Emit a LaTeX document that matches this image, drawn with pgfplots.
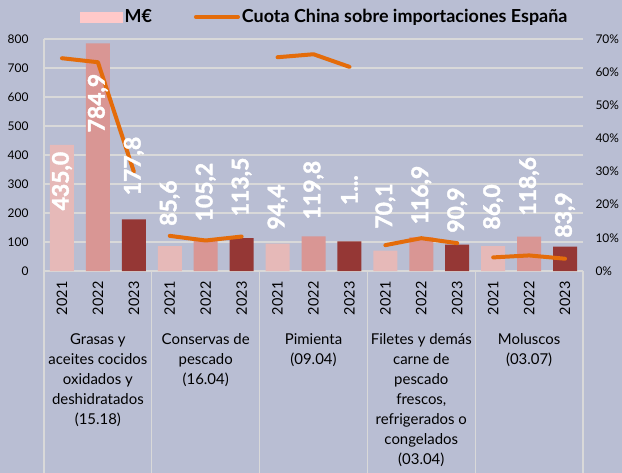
\documentclass[border=0pt]{standalone}
\usepackage{pgfplots}
\pgfplotsset{compat=1.18}
\usepackage{fontspec}
\setmainfont{Lato}
\newfontfamily\heavyfont[BoldFeatures={FakeBold=1.8}]{Lato}
\definecolor{bg}{HTML}{B9BED3}
\definecolor{gridgray}{HTML}{D9D9D9}
\definecolor{c2021}{HTML}{E6B9B8}
\definecolor{c2022}{HTML}{D99694}
\definecolor{c2023}{HTML}{953735}
\definecolor{legpink}{HTML}{FFC9C9}
\definecolor{lineorange}{HTML}{E46C0A}
\pgfplotsset{legline/.style={legend image code/.code={\draw[##1] (0bp,0bp) -- (42bp,0bp);}}}
\begin{document}
\begin{tikzpicture}
\fill[bg] (-44bp,-202bp) rectangle (578bp,271bp);
% ---------- left axis: bars ----------
\begin{axis}[
  at={(0,0)}, anchor=south west,
  scale only axis, width=539bp, height=232bp,
  xmin=-0.5, xmax=14.5, ymin=0, ymax=800,
  clip=false,
  axis x line*=bottom, axis y line*=left,
  axis line style={gridgray, line width=1.2bp},
  ytick={0,100,...,800},
  ymajorgrids, grid style={gridgray, line width=1.2bp},
  major tick length=0pt,
  xtick={0,...,14},
  xticklabels={2021,2022,2023,2021,2022,2023,2021,2022,2023,2021,2022,2023,2021,2022,2023},
  x tick label style={rotate=90, anchor=east, font=\fontsize{14.5}{16}\selectfont},
  xticklabel shift=7bp,
  y tick label style={font=\fontsize{12}{14}\selectfont},
  yticklabel shift=12bp,
  /pgf/number format/assume math mode=true,
  extra x ticks={-0.5,2.5,5.5,8.5,11.5,14.5},
  extra x tick labels={},
  extra x tick style={major tick length=202bp, tick align=outside, major tick style={gridgray, line width=1.2bp}},
]
\addplot[ybar, bar width=24bp, bar shift=0pt, fill=c2021, draw=none] table {
x y
0 435.0
3 85.6
6 94.4
9 70.1
12 86.0
};
\addplot[ybar, bar width=24bp, bar shift=0pt, fill=c2022, draw=none] table {
x y
1 784.9
4 105.2
7 119.8
10 116.9
13 118.6
};
\addplot[ybar, bar width=24bp, bar shift=0pt, fill=c2023, draw=none] table {
x y
2 177.8
5 113.5
8 102.0
11 90.9
14 83.9
};
\tikzset{grp/.style={anchor=north, align=center, font=\fontsize{15}{20}\selectfont, yshift=-59bp}}
\node[grp] at (axis cs:1,0) {Grasas y\\aceites cocidos\\oxidados y\\deshidratados\\(15.18)};
\node[grp] at (axis cs:4,0) {Conservas de\\pescado\\(16.04)};
\node[grp] at (axis cs:7,0) {Pimienta\\(09.04)};
\node[grp] at (axis cs:10,0) {Filetes y demás\\carne de\\pescado\\frescos,\\refrigerados o\\congelados\\(03.04)};
\node[grp] at (axis cs:13,0) {Moluscos\\(03.07)};
\end{axis}
% ---------- right axis: line ----------
\begin{axis}[
  at={(0,0)}, anchor=south west,
  scale only axis, width=539bp, height=232bp,
  xmin=-0.5, xmax=14.5, ymin=0, ymax=70,
  axis x line=none, axis y line*=right,
  y axis line style={draw=none},
  ytick={0,10,...,70},
  yticklabel={\pgfmathprintnumber{\tick}\%},
  major tick length=0pt,
  y tick label style={font=\fontsize{12}{14}\selectfont},
  yticklabel shift=9bp,
  /pgf/number format/assume math mode=true,
  legend columns=2,
  legend style={at={(0.521,1.095)}, anchor=center, draw=none, fill=none,
    font=\bfseries\fontsize{18}{20}\selectfont,
    /tikz/every even column/.append style={column sep=40bp}},
]
\addlegendimage{legend image code/.code={\fill[legpink] (0bp,-5bp) rectangle (42bp,5bp);}}
\addlegendentry{M€}
\addplot[lineorange, line width=4bp, line join=round, line cap=round, unbounded coords=jump, legline] table {
x y
0 64.2
1 63.0
2 30.0
2.5 nan
3 10.6
4 9.2
5 10.4
5.5 nan
6 64.5
7 65.4
8 61.6
8.5 nan
9 7.8
10 9.9
11 8.4
11.5 nan
12 4.1
13 4.7
14 3.7
};
\addlegendentry{Cuota China sobre importaciones España}
\end{axis}
% ---------- data labels ----------
\begin{axis}[
  at={(0,0)}, anchor=south west,
  scale only axis, width=539bp, height=232bp,
  xmin=-0.5, xmax=14.5, ymin=0, ymax=800,
  hide axis,
]
\addplot[draw=none, nodes near coords, point meta=explicit symbolic, nodes near coords align=center,
  nodes near coords style={rotate=90, text=white, font=\heavyfont\bfseries\fontsize{23}{24}\selectfont}]
  table[meta=label] {
x y label
0 310 435,0
1 579 784,9
2 362 177,8
3 234 85,6
4 272 105,2
5 290 113,5
6 221 94,4
7 279 119,8
8 279 1...
9 224 70,1
10 262 116,9
11 210 90,9
12 221 86,0
13 292 118,6
14 193 83,9
};
\end{axis}
\pgfresetboundingbox
\path[use as bounding box] (-44bp,-202bp) rectangle (578bp,271bp);
\end{tikzpicture}
\end{document}
